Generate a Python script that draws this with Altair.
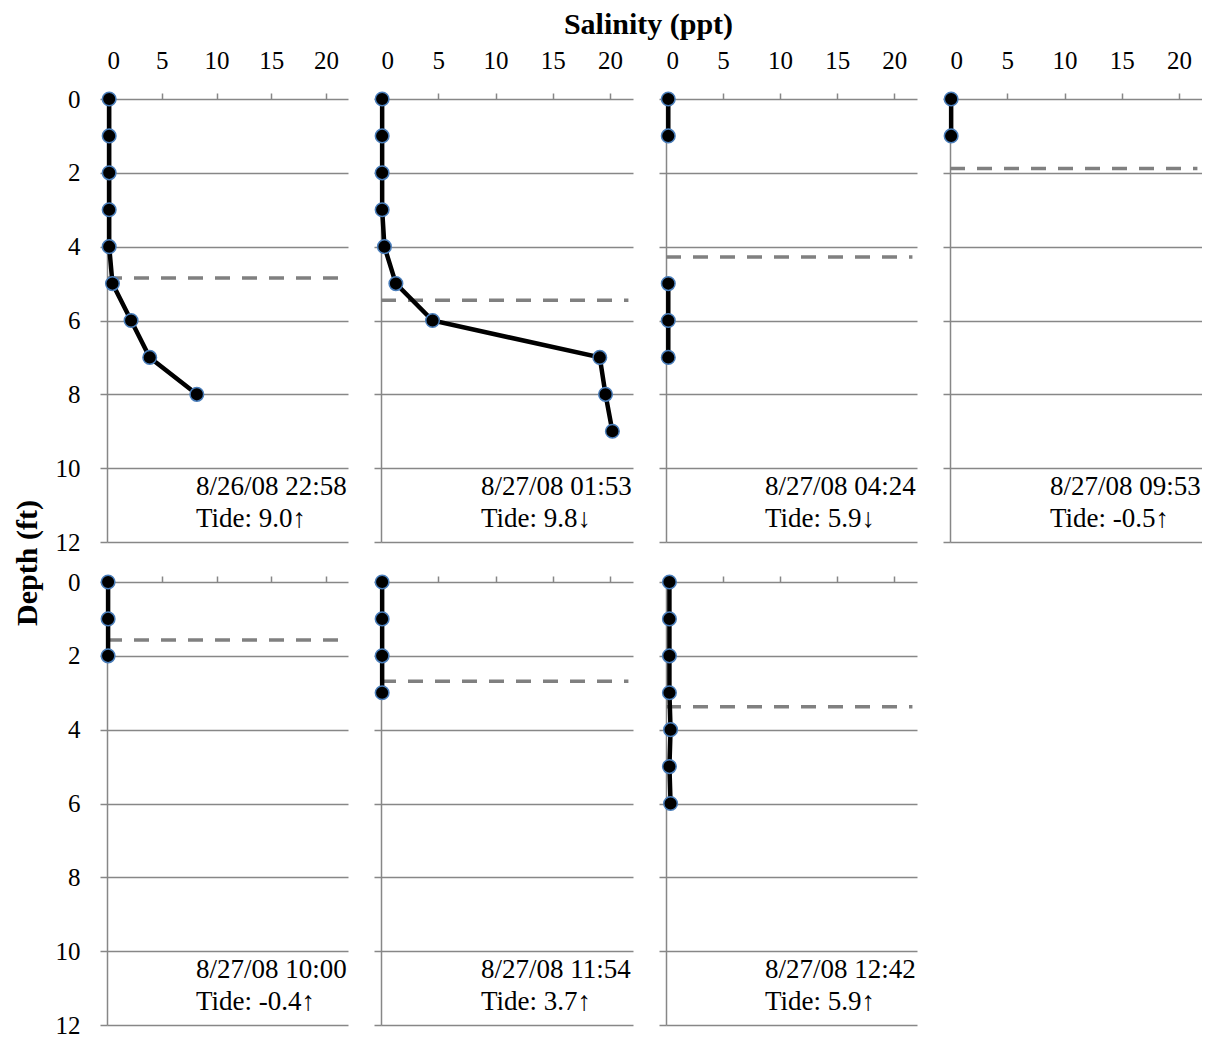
import altair as alt
import pandas as pd

FONT = "Liberation Serif"
GRID = "#878787"
XMAX = 22

# ---- data ----
dates = ["8/26/08 22:58", "8/27/08 01:53", "8/27/08 04:24", "8/27/08 09:53",
         "8/27/08 10:00", "8/27/08 11:54", "8/27/08 12:42"]
tides = ["Tide: 9.0\u2191", "Tide: 9.8\u2193", "Tide: 5.9\u2193", "Tide: -0.5\u2191",
         "Tide: -0.4\u2191", "Tide: 3.7\u2191", "Tide: 5.9\u2191"]

depths = [
    [0, 1, 2, 3, 4, 5, 6, 7, 8],
    [0, 1, 2, 3, 4, 5, 6, 7, 8, 9],
    [0, 1, 5, 6, 7],
    [0, 1],
    [0, 1, 2],
    [0, 1, 2, 3],
    [0, 1, 2, 3, 4, 5, 6],
]
salinity = [
    [0.2, 0.2, 0.2, 0.2, 0.2, 0.5, 2.2, 3.9, 8.2],
    [0.1, 0.1, 0.1, 0.1, 0.3, 1.3, 4.5, 19.1, 19.6, 20.2],
    [0.2, 0.2, 0.2, 0.2, 0.2],
    [0.1, 0.1],
    [0.1, 0.1, 0.1],
    [0.1, 0.1, 0.1, 0.1],
    [0.3, 0.3, 0.3, 0.3, 0.4, 0.3, 0.4],
]
# profile segments (panel 3 has no readings between 1 and 5 ft)
segments = [
    [0] * 9,
    [0] * 10,
    [0, 0, 1, 1, 1],
    [0, 0],
    [0, 0, 0],
    [0, 0, 0, 0],
    [0] * 7,
]
dashed_depth = [4.85, 5.45, 4.28, 1.88, 1.57, 2.69, 3.38]

panel_widths = [241, 252, 251, 252, 241, 252, 251]
PANEL_H = 443


def panel(i, top_row, first_col):
    prof = pd.DataFrame({"Depth": depths[i], "Salinity": salinity[i], "seg": segments[i]})
    x = alt.X(
        "Salinity:Q",
        scale=alt.Scale(domain=[0, XMAX], nice=False, zero=True),
        axis=alt.Axis(
            orient="top", values=[0, 5, 10, 15, 20], grid=False, domain=False,
            ticks=True, tickSize=6, tickColor=GRID, tickWidth=1.5,
            labels=top_row, labelFont=FONT, labelFontSize=25, labelColor="black",
            labelPadding=20, title=None, zindex=0,
        ),
    )
    y = alt.Y(
        "Depth:Q",
        scale=alt.Scale(domain=[0, 12], reverse=True, nice=False),
        axis=alt.Axis(
            values=list(range(0, 13, 2)), grid=True, gridColor=GRID, gridWidth=1.5,
            domain=True, domainColor=GRID, domainWidth=1.5,
            tickSize=7, tickColor=GRID, tickWidth=1.5,
            labels=first_col, labelFont=FONT, labelFontSize=25, labelColor="black",
            labelPadding=20, title=None, zindex=0,
        ),
    )
    line = alt.Chart(prof).mark_line(color="black", strokeWidth=4.5).encode(
        x=x, y=y, detail="seg:N", order="Depth:Q"
    )
    pts = alt.Chart(prof).mark_point(
        shape="circle", filled=True, fill="black", stroke="#4a7ebb",
        strokeWidth=1.5, size=185, opacity=1,
    ).encode(x="Salinity:Q", y="Depth:Q")
    rule_df = pd.DataFrame({"Depth": [dashed_depth[i]]})
    rule = alt.Chart(rule_df).mark_rule(
        color="#808080", strokeWidth=3.5, strokeDash=[15, 12]
    ).encode(y="Depth:Q", x=alt.datum(0), x2=alt.datum(21.6))
    txt_df = pd.DataFrame({"label": [dates[i], tides[i]], "Depth": [10.5, 11.37]})
    txt = alt.Chart(txt_df).mark_text(
        align="left", baseline="middle", dx=-152, font=FONT, fontSize=27, color="black"
    ).encode(x=alt.datum(XMAX), y="Depth:Q", text="label:N")
    return alt.layer(rule, line, pts, txt).properties(
        width=panel_widths[i], height=PANEL_H
    )


panels = [panel(i, i < 4, i in (0, 4)) for i in range(7)]

grid = alt.concat(
    *panels, columns=4, spacing={"row": 40, "column": 33}, bounds="flush",
    title=alt.TitleParams("Depth (ft)", orient="left", anchor="middle", font=FONT,
                          fontSize=30, fontWeight="bold", color="black", offset=12,
                          dx=-20),
)

chart = alt.hconcat(
    grid,
    title=alt.TitleParams("Salinity (ppt)", anchor="middle", font=FONT, fontSize=30,
                          fontWeight="bold", color="black", offset=8, dx=41),
).properties(padding={"left": 5, "top": 2, "right": 0, "bottom": 0}).configure_view(stroke=None)

chart.save("out.html", embed_options={"renderer": "svg", "actions": False})
